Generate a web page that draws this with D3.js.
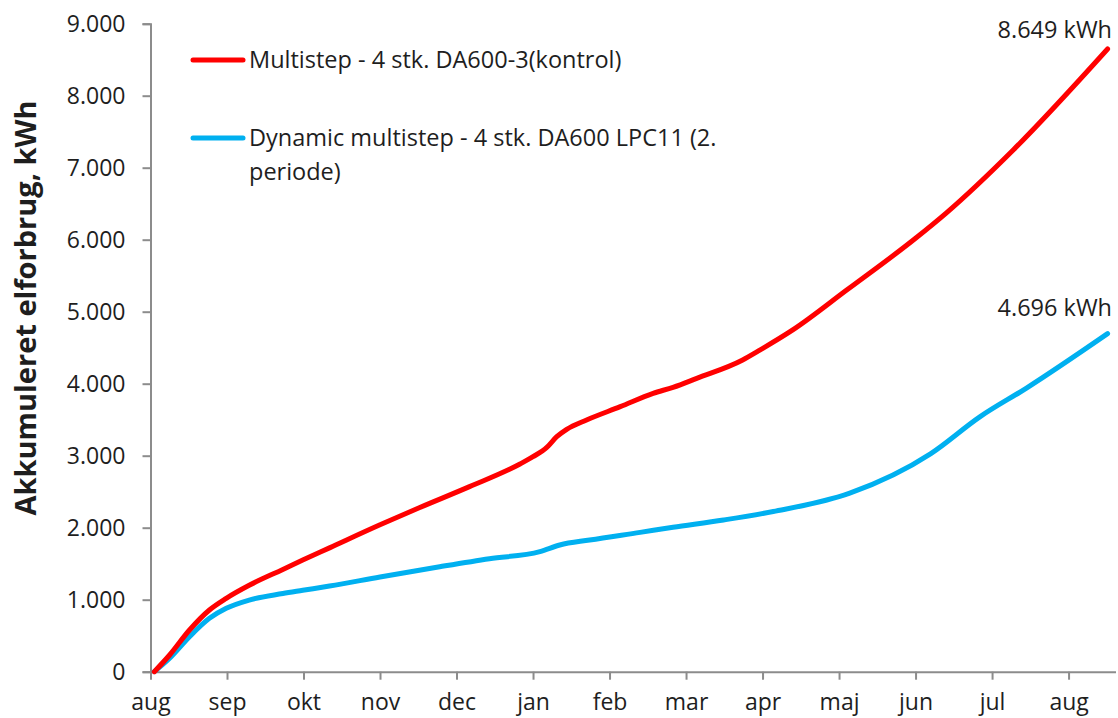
<!DOCTYPE html>
<html>
<head>
<meta charset="utf-8">
<script src="https://cdn.jsdelivr.net/npm/d3@7"></script>
<style>
  body { margin: 0; background: #fff; }
  svg text { font-family: "Open Sans", sans-serif; fill: #1e1e1e; }
</style>
</head>
<body>
<svg id="chart" width="1118" height="718"></svg>
<script>
// month labels (aug .. aug), one tick per month
var monthLabels = ["aug", "sep", "okt", "nov", "dec", "jan", "feb", "mar", "apr", "maj", "jun", "jul", "aug"];
var yTicks = [0, 1000, 2000, 3000, 4000, 5000, 6000, 7000, 8000, 9000];

// position in months since start, accumulated kWh
var redMonths = [0.05, 0.25, 0.51, 0.77, 0.99, 1.29, 1.73, 1.99, 2.34, 3.0, 3.52, 4.17, 4.83, 5.0, 5.18, 5.31, 5.44, 5.7, 6.14, 6.57, 6.83, 7.14, 7.74, 7.97, 8.4, 9.1, 10.0, 10.4, 11.28, 12.51];
var redValues = [0, 232, 579, 857, 1019, 1200, 1420, 1550, 1720, 2040, 2280, 2570, 2885, 2986, 3116, 3264, 3366, 3496, 3681, 3867, 3950, 4075, 4330, 4470, 4750, 5300, 6020, 6370, 7250, 8649];

var blueMonths = [0.05, 0.25, 0.51, 0.77, 0.99, 1.29, 1.73, 1.99, 2.34, 3.0, 3.78, 4.43, 5.09, 5.35, 5.74, 6.4, 6.83, 7.49, 8.14, 9.14, 10.2, 10.84, 11.45, 12.51];
var blueValues = [0, 186, 486, 741, 880, 995, 1085, 1130, 1190, 1315, 1458, 1570, 1667, 1760, 1829, 1935, 2005, 2107, 2225, 2480, 3030, 3540, 3940, 4696];

var seriesNames = ["Multistep - 4 stk. DA600-3(kontrol)", "Dynamic multistep - 4 stk. DA600 LPC11 (2.", "periode)"];
var endLabels = ["8.649 kWh", "4.696 kWh"];

var svg = d3.select("#chart");
var plotLeft = 150.5, plotRight = 1116, plotTop = 23.7, plotBottom = 671.7;

var x = d3.scaleLinear().domain([0, 12.62]).range([plotLeft, plotRight]);
var y = d3.scaleLinear().domain([0, 9000]).range([plotBottom, plotTop]);

var fmt = function (d) { return d3.format(",")(d).replace(/,/g, "."); };

// y axis
var yAxis = svg.append("g")
    .attr("transform", "translate(" + plotLeft + ",0)")
    .call(d3.axisLeft(y).tickValues(yTicks).tickSize(8).tickPadding(17).tickFormat(fmt));
yAxis.selectAll("text").style("font-size", "23px").attr("dy", "0.35em");

// x axis
var xAxis = svg.append("g")
    .attr("transform", "translate(0," + plotBottom + ")")
    .call(d3.axisBottom(x).tickValues(d3.range(monthLabels.length)).tickSize(8).tickPadding(14)
        .tickFormat(function (d) { return monthLabels[d]; }));
xAxis.selectAll("text").style("font-size", "23px");
xAxis.select(".domain").attr("d", "M" + plotLeft + ",0.5H" + plotRight);

svg.selectAll(".domain, .tick line").attr("stroke", "#8c8c8c").attr("stroke-width", 2);

// y title
svg.append("text")
    .attr("transform", "translate(36,308) rotate(-90)")
    .attr("text-anchor", "middle")
    .style("font-size", "29px")
    .style("font-weight", "bold")
    .text("Akkumuleret elforbrug, kWh");

var line = d3.line()
    .x(function (d) { return x(d[0]); })
    .y(function (d) { return y(d[1]); })
    .curve(d3.curveMonotoneX);

var redData = d3.zip(redMonths, redValues);
var blueData = d3.zip(blueMonths, blueValues);

svg.append("path").datum(blueData)
    .attr("d", line).attr("fill", "none").attr("stroke", "#00b0f0")
    .attr("stroke-width", 5).attr("stroke-linecap", "round").attr("stroke-linejoin", "round");
svg.append("path").datum(redData)
    .attr("d", line).attr("fill", "none").attr("stroke", "#ff0000")
    .attr("stroke-width", 5).attr("stroke-linecap", "round").attr("stroke-linejoin", "round");

// end labels
svg.append("text").attr("x", 1112).attr("y", 30).attr("dy", "0.35em")
    .attr("text-anchor", "end").style("font-size", "23.5px").text(endLabels[0]);
svg.append("text").attr("x", 1112).attr("y", 308).attr("dy", "0.35em")
    .attr("text-anchor", "end").style("font-size", "23.5px").text(endLabels[1]);

// legend
var legend = svg.append("g");
legend.append("line").attr("x1", 193).attr("x2", 243).attr("y1", 60).attr("y2", 60)
    .attr("stroke", "#ff0000").attr("stroke-width", 5).attr("stroke-linecap", "round");
legend.append("text").attr("x", 249).attr("y", 60).attr("dy", "0.35em")
    .style("font-size", "23.5px").text(seriesNames[0]);
legend.append("line").attr("x1", 193).attr("x2", 243).attr("y1", 138).attr("y2", 138)
    .attr("stroke", "#00b0f0").attr("stroke-width", 5).attr("stroke-linecap", "round");
legend.append("text").attr("x", 249).attr("y", 138).attr("dy", "0.35em")
    .style("font-size", "23.5px").text(seriesNames[1]);
legend.append("text").attr("x", 249).attr("y", 172).attr("dy", "0.35em")
    .style("font-size", "23.5px").text(seriesNames[2]);
</script>
</body>
</html>
